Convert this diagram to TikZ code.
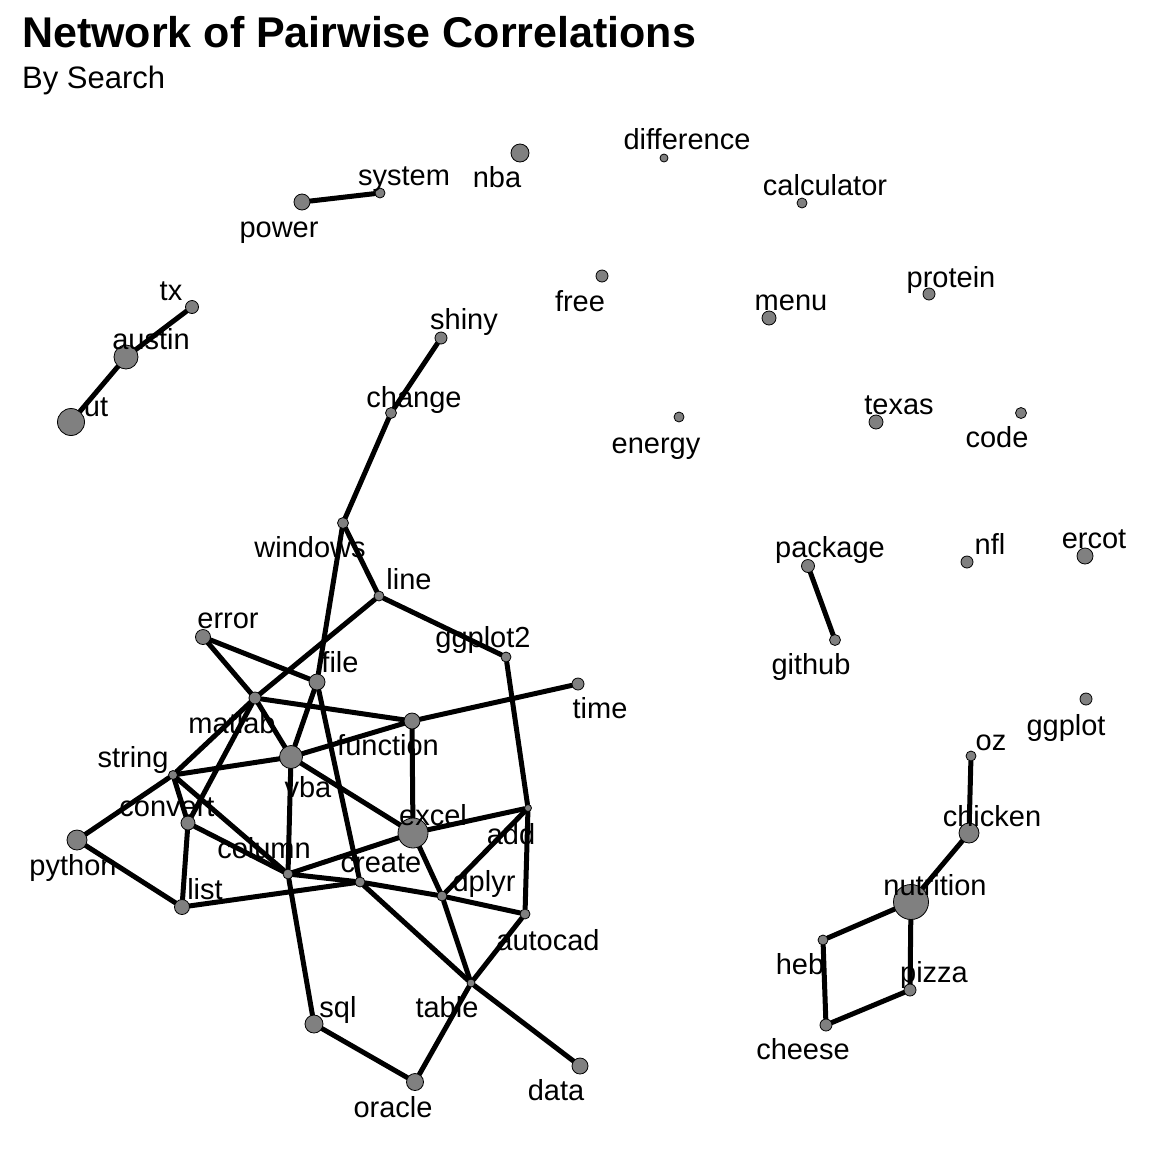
\documentclass[tikz,border=0pt]{standalone}
\usepackage{fontspec}
\setmainfont{Liberation Sans}
\usepackage{tikz}
\usetikzlibrary{backgrounds}
\tikzstyle{every path}=[line cap=round,line join=round]
\tikzstyle{word}=[circle,draw=black,line width=0.8pt,fill=gray,inner sep=0pt]
\tikzstyle{lbl}=[inner sep=0pt,font=\fontsize{29}{30}\selectfont,text height=21pt,text depth=6pt,yshift=-2.5pt]
\tikzstyle{link}=[line width=5pt,black]
\begin{document}
\begin{tikzpicture}[x=1pt,y=-1pt]
\useasboundingbox (0,0) rectangle (1152,1152);

\node[anchor=base west,inner sep=0pt,font=\fontsize{43}{50}\selectfont\bfseries] (title) at (22,47) {Network of Pairwise Correlations};
\node[anchor=base west,inner sep=0pt,font=\fontsize{31}{36}\selectfont] (subtitle) at (22,88) {By Search};

% word points
\node[word,minimum size=10pt] (system) at (380,193) {};
\node[word,minimum size=16pt] (power) at (302,202) {};
\node[word,minimum size=18pt] (nba) at (520,153) {};
\node[word,minimum size=8pt] (difference) at (664,158) {};
\node[word,minimum size=10pt] (calculator) at (802,203) {};
\node[word,minimum size=13pt] (tx) at (192,307) {};
\node[word,minimum size=24pt] (austin) at (126,357) {};
\node[word,minimum size=27pt] (ut) at (71,422) {};
\node[word,minimum size=12pt] (shiny) at (441,338) {};
\node[word,minimum size=12pt] (free) at (602,276) {};
\node[word,minimum size=14pt] (menu) at (769,318) {};
\node[word,minimum size=12pt] (protein) at (929,294) {};
\node[word,minimum size=11pt] (change) at (391,413) {};
\node[word,minimum size=10pt] (energy) at (679,417) {};
\node[word,minimum size=14pt] (texas) at (876,422) {};
\node[word,minimum size=11pt] (code) at (1021,413) {};
\node[word,minimum size=11pt] (windows) at (343,523) {};
\node[word,minimum size=10pt] (line) at (379,596) {};
\node[word,minimum size=13pt] (package) at (808,566) {};
\node[word,minimum size=12pt] (nfl) at (967,562) {};
\node[word,minimum size=16pt] (ercot) at (1085,556) {};
\node[word,minimum size=11pt] (github) at (835,640) {};
\node[word,minimum size=15pt] (error) at (203,637) {};
\node[word,minimum size=10pt] (ggplot2) at (506,657) {};
\node[word,minimum size=16pt] (file) at (317,682) {};
\node[word,minimum size=12pt] (time) at (578,684) {};
\node[word,minimum size=12pt] (ggplot) at (1086,699) {};
\node[word,minimum size=12pt] (matlab) at (255,698) {};
\node[word,minimum size=16pt] (function) at (412,721) {};
\node[word,minimum size=10pt] (oz) at (971,756) {};
\node[word,minimum size=9pt] (string) at (173,775) {};
\node[word,minimum size=23pt] (vba) at (291,757) {};
\node[word,minimum size=14pt] (convert) at (188,823) {};
\node[word,minimum size=30pt] (excel) at (413,833) {};
\node[word,minimum size=20pt] (chicken) at (969,833) {};
\node[word,minimum size=7pt] (add) at (528,808) {};
\node[word,minimum size=20pt] (python) at (77,840) {};
\node[word,minimum size=10pt] (column) at (288,874) {};
\node[word,minimum size=10pt] (create) at (360,882) {};
\node[word,minimum size=10pt] (dplyr) at (442,896) {};
\node[word,minimum size=15pt] (list) at (182,907) {};
\node[word,minimum size=35pt] (nutrition) at (911,902) {};
\node[word,minimum size=10pt] (autocad) at (525,914) {};
\node[word,minimum size=10pt] (heb) at (823,940) {};
\node[word,minimum size=12pt] (pizza) at (910,990) {};
\node[word,minimum size=8pt] (table) at (471,983) {};
\node[word,minimum size=18pt] (sql) at (314,1024) {};
\node[word,minimum size=12pt] (cheese) at (826,1025) {};
\node[word,minimum size=16pt] (data) at (580,1066) {};
\node[word,minimum size=17pt] (oracle) at (415,1082) {};

% labels
\node[lbl] (system-t) at (404,175) {system};
\node[lbl] (power-t) at (279,227) {power};
\node[lbl] (nba-t) at (497,177) {nba};
\node[lbl] (difference-t) at (687,139) {difference};
\node[lbl] (calculator-t) at (825,185) {calculator};
\node[lbl] (tx-t) at (171,290) {tx};
\node[lbl] (austin-t) at (151,339) {austin};
\node[lbl] (ut-t) at (96,406) {ut};
\node[lbl] (shiny-t) at (464,319) {shiny};
\node[lbl] (free-t) at (580,301) {free};
\node[lbl] (menu-t) at (791,300) {menu};
\node[lbl] (protein-t) at (951,277) {protein};
\node[lbl] (change-t) at (414,397) {change};
\node[lbl] (energy-t) at (656,443) {energy};
\node[lbl] (texas-t) at (899,404) {texas};
\node[lbl] (code-t) at (997,437) {code};
\node[lbl] (windows-t) at (310,547) {windows};
\node[lbl] (line-t) at (409,579) {line};
\node[lbl] (package-t) at (830,547) {package};
\node[lbl] (nfl-t) at (990,544) {nfl};
\node[lbl] (ercot-t) at (1094,538) {ercot};
\node[lbl] (github-t) at (811,664) {github};
\node[lbl] (error-t) at (228,618) {error};
\node[lbl] (ggplot2-t) at (483,637) {ggplot2};
\node[lbl] (file-t) at (340,662) {file};
\node[lbl] (time-t) at (600,708) {time};
\node[lbl] (ggplot-t) at (1066,725) {ggplot};
\node[lbl] (matlab-t) at (232,723) {matlab};
\node[lbl] (function-t) at (388,745) {function};
\node[lbl] (oz-t) at (991,740) {oz};
\node[lbl] (string-t) at (133,757) {string};
\node[lbl] (vba-t) at (308,787) {vba};
\node[lbl] (convert-t) at (167,806) {convert};
\node[lbl] (excel-t) at (433,815) {excel};
\node[lbl] (chicken-t) at (992,816) {chicken};
\node[lbl] (add-t) at (511,834) {add};
\node[lbl] (python-t) at (73,865) {python};
\node[lbl] (column-t) at (264,848) {column};
\node[lbl] (create-t) at (381,862) {create};
\node[lbl] (dplyr-t) at (484,881) {dplyr};
\node[lbl] (list-t) at (205,889) {list};
\node[lbl] (nutrition-t) at (935,885) {nutrition};
\node[lbl] (autocad-t) at (548,940) {autocad};
\node[lbl] (heb-t) at (800,964) {heb};
\node[lbl] (pizza-t) at (934,972) {pizza};
\node[lbl] (table-t) at (447,1007) {table};
\node[lbl] (sql-t) at (338,1007) {sql};
\node[lbl] (cheese-t) at (803,1049) {cheese};
\node[lbl] (data-t) at (556,1090) {data};
\node[lbl] (oracle-t) at (393,1107) {oracle};

% correlation links
\begin{scope}[on background layer]
\fill[white] (0,0) rectangle (1152,1152);
\draw[link] (power) -- (system);
\draw[link] (tx) -- (austin);
\draw[link] (austin) -- (ut);
\draw[link] (shiny) -- (change);
\draw[link] (change) -- (windows);
\draw[link] (windows) -- (line);
\draw[link] (windows) -- (file);
\draw[link] (line) -- (ggplot2);
\draw[link] (line) -- (matlab);
\draw[link] (error) -- (file);
\draw[link] (error) -- (matlab);
\draw[link] (matlab) -- (vba);
\draw[link] (matlab) -- (string);
\draw[link] (matlab) -- (convert);
\draw[link] (matlab) -- (function);
\draw[link] (file) -- (vba);
\draw[link] (file) -- (create);
\draw[link] (function) -- (time);
\draw[link] (function) -- (vba);
\draw[link] (function) -- (excel);
\draw[link] (ggplot2) -- (add);
\draw[link] (string) -- (python);
\draw[link] (string) -- (vba);
\draw[link] (string) -- (convert);
\draw[link] (string) -- (column);
\draw[link] (convert) -- (list);
\draw[link] (convert) -- (column);
\draw[link] (python) -- (list);
\draw[link] (vba) -- (column);
\draw[link] (vba) -- (excel);
\draw[link] (excel) -- (add);
\draw[link] (excel) -- (column);
\draw[link] (excel) -- (dplyr);
\draw[link] (add) -- (dplyr);
\draw[link] (add) -- (autocad);
\draw[link] (column) -- (create);
\draw[link] (column) -- (sql);
\draw[link] (list) -- (create);
\draw[link] (create) -- (dplyr);
\draw[link] (create) -- (table);
\draw[link] (dplyr) -- (autocad);
\draw[link] (dplyr) -- (table);
\draw[link] (autocad) -- (table);
\draw[link] (table) -- (oracle);
\draw[link] (table) -- (data);
\draw[link] (sql) -- (oracle);
\draw[link] (package) -- (github);
\draw[link] (oz) -- (chicken);
\draw[link] (chicken) -- (nutrition);
\draw[link] (nutrition) -- (heb);
\draw[link] (nutrition) -- (pizza);
\draw[link] (heb) -- (cheese);
\draw[link] (pizza) -- (cheese);
\end{scope}
\end{tikzpicture}
\end{document}
